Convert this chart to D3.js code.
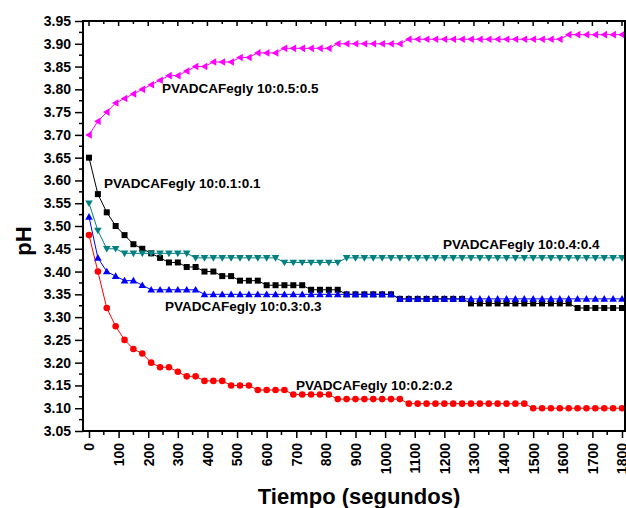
<!DOCTYPE html>
<html>
<head>
<meta charset="utf-8">
<script src="https://cdn.jsdelivr.net/npm/d3@7"></script>
<style>
  body { margin: 0; background: #fff; }
  svg { display: block; font-family: Arial, "Liberation Sans", sans-serif; font-weight: bold; }
</style>
</head>
<body>
<div id="chart"></div>
<script>
// sampling times (s)
const tiempo = [0, 30, 60, 90, 120, 150, 180, 210, 240, 270, 300, 330, 360, 390, 420, 450, 480, 510, 540, 570,
  600, 630, 660, 690, 720, 750, 780, 810, 840, 870, 900, 930, 960, 990, 1020, 1050, 1080, 1110, 1140, 1170,
  1200, 1230, 1260, 1290, 1320, 1350, 1380, 1410, 1440, 1470, 1500, 1530, 1560, 1590, 1620, 1650, 1680, 1710, 1740, 1770, 1800]

const ph01 = [3.65, 3.57, 3.53, 3.50, 3.48, 3.46, 3.45, 3.44, 3.43, 3.42, 3.42, 3.41, 3.41, 3.40, 3.40, 3.39, 3.39, 3.38, 3.38, 3.38,
  3.37, 3.37, 3.37, 3.37, 3.37, 3.36, 3.36, 3.36, 3.36, 3.35, 3.35, 3.35, 3.35, 3.35, 3.35, 3.34, 3.34, 3.34, 3.34, 3.34,
  3.34, 3.34, 3.34, 3.33, 3.33, 3.33, 3.33, 3.33, 3.33, 3.33, 3.33, 3.33, 3.33, 3.33, 3.33, 3.32, 3.32, 3.32, 3.32, 3.32, 3.32]

const ph02 = [3.48, 3.40, 3.32, 3.28, 3.25, 3.23, 3.22, 3.20, 3.19, 3.19, 3.18, 3.17, 3.17, 3.16, 3.16, 3.16, 3.15, 3.15, 3.15, 3.14,
  3.14, 3.14, 3.14, 3.13, 3.13, 3.13, 3.13, 3.13, 3.12, 3.12, 3.12, 3.12, 3.12, 3.12, 3.12, 3.12, 3.11, 3.11, 3.11, 3.11,
  3.11, 3.11, 3.11, 3.11, 3.11, 3.11, 3.11, 3.11, 3.11, 3.11, 3.10, 3.10, 3.10, 3.10, 3.10, 3.10, 3.10, 3.10, 3.10, 3.10, 3.10]

const ph03 = [3.52, 3.43, 3.40, 3.39, 3.38, 3.38, 3.37, 3.36, 3.36, 3.36, 3.36, 3.36, 3.36, 3.35, 3.35, 3.35, 3.35, 3.35, 3.35, 3.35,
  3.35, 3.35, 3.35, 3.35, 3.35, 3.35, 3.35, 3.35, 3.35, 3.35, 3.35, 3.35, 3.35, 3.35, 3.35, 3.34, 3.34, 3.34, 3.34, 3.34,
  3.34, 3.34, 3.34, 3.34, 3.34, 3.34, 3.34, 3.34, 3.34, 3.34, 3.34, 3.34, 3.34, 3.34, 3.34, 3.34, 3.34, 3.34, 3.34, 3.34, 3.34]

const ph04 = [3.55, 3.49, 3.45, 3.45, 3.44, 3.44, 3.44, 3.44, 3.44, 3.44, 3.44, 3.44, 3.43, 3.43, 3.43, 3.43, 3.43, 3.43, 3.43, 3.43,
  3.43, 3.43, 3.42, 3.42, 3.42, 3.42, 3.42, 3.42, 3.42, 3.43, 3.43, 3.43, 3.43, 3.43, 3.43, 3.43, 3.43, 3.43, 3.43, 3.43,
  3.43, 3.43, 3.43, 3.43, 3.43, 3.43, 3.43, 3.43, 3.43, 3.43, 3.43, 3.43, 3.43, 3.43, 3.43, 3.43, 3.43, 3.43, 3.43, 3.43, 3.43]

const ph05 = [3.70, 3.73, 3.75, 3.77, 3.78, 3.79, 3.80, 3.81, 3.82, 3.83, 3.83, 3.84, 3.85, 3.85, 3.86, 3.86, 3.86, 3.87, 3.87, 3.88,
  3.88, 3.88, 3.89, 3.89, 3.89, 3.89, 3.89, 3.89, 3.90, 3.90, 3.90, 3.90, 3.90, 3.90, 3.90, 3.90, 3.91, 3.91, 3.91, 3.91,
  3.91, 3.91, 3.91, 3.91, 3.91, 3.91, 3.91, 3.91, 3.91, 3.91, 3.91, 3.91, 3.91, 3.91, 3.92, 3.92, 3.92, 3.92, 3.92, 3.92, 3.92]

const yTicks = [3.05, 3.10, 3.15, 3.20, 3.25, 3.30, 3.35, 3.40, 3.45, 3.50, 3.55, 3.60, 3.65, 3.70, 3.75, 3.80, 3.85, 3.90, 3.95]
const xTicks = [0, 100, 200, 300, 400, 500, 600, 700, 800, 900, 1000, 1100, 1200, 1300, 1400, 1500, 1600, 1700, 1800]

const seriesNames = ['PVADCAFegly 10:0.1:0.1', 'PVADCAFegly 10:0.2:0.2', 'PVADCAFegly 10:0.3:0.3',
  'PVADCAFegly 10:0.4:0.4', 'PVADCAFegly 10:0.5:0.5']

const W = 626, H = 508
const pLeft = 83, pRight = 625, pTop = 21, pBottom = 431

const x = d3.scaleLinear().domain([0, 1800]).range([89, 622])
const y = d3.scaleLinear().domain([3.05, 3.95]).range([pBottom, pTop])

const svg = d3.select('#chart').append('svg').attr('width', W).attr('height', H)

// series styling: colour, marker, label spot
const series = [
  { vals: ph01, color: '#000000', sym: 'square', lx: 104, ly: 183 },
  { vals: ph02, color: '#ff0000', sym: 'circle', lx: 296, ly: 385 },
  { vals: ph03, color: '#0000ff', sym: 'up', lx: 165, ly: 306 },
  { vals: ph04, color: '#008080', sym: 'down', lx: 443, ly: 244 },
  { vals: ph05, color: '#ff00ff', sym: 'leftTri', lx: 162, ly: 88 }
]

function marker(g, sym, color) {
  if (sym === 'square') {
    g.append('rect').attr('x', -3).attr('y', -3).attr('width', 6).attr('height', 6).attr('fill', color)
  } else if (sym === 'circle') {
    g.append('circle').attr('r', 3.3).attr('fill', color)
  } else if (sym === 'up') {
    g.append('path').attr('d', 'M0,-3.8L3.8,2.8L-3.8,2.8Z').attr('fill', color)
  } else if (sym === 'down') {
    g.append('path').attr('d', 'M0,3.8L3.8,-2.8L-3.8,-2.8Z').attr('fill', color)
  } else {
    g.append('path').attr('d', 'M-3.8,0L2.8,-3.8L2.8,3.8Z').attr('fill', color)
  }
}

const line = d3.line().x((d, i) => x(tiempo[i])).y(d => y(d))

series.forEach((s, k) => {
  svg.append('path').datum(s.vals)
    .attr('d', line).attr('fill', 'none').attr('stroke', s.color).attr('stroke-width', 1)
  svg.append('g').selectAll('g').data(s.vals).join('g')
    .attr('transform', (d, i) => `translate(${x(tiempo[i])},${y(d)})`)
    .each(function () { marker(d3.select(this), s.sym, s.color) })
})

// labels drawn after all series
series.forEach((s, k) => {
  svg.append('text').attr('x', s.lx).attr('y', s.ly).attr('dy', '0.35em')
    .attr('font-size', 13.5).attr('fill', '#000').text(seriesNames[k])
})

// frame
svg.append('rect').attr('x', pLeft).attr('y', pTop).attr('width', pRight - pLeft).attr('height', pBottom - pTop)
  .attr('fill', 'none').attr('stroke', '#000').attr('stroke-width', 2)

// y axis
const yMinor = yTicks.slice(0, -1).map(v => v + 0.025)
const yAx = svg.append('g').attr('transform', `translate(${pLeft},0)`)
  .call(d3.axisLeft(y).tickValues(yTicks).tickFormat(d3.format('.2f')).tickSize(8).tickPadding(4))
yAx.select('.domain').remove()
yAx.selectAll('line').attr('stroke-width', 1.5)
yAx.selectAll('text').attr('font-size', 14).attr('font-family', 'Arial, "Liberation Sans", sans-serif').attr('font-weight', 'bold')
svg.append('g').selectAll('line').data(yMinor).join('line')
  .attr('x1', pLeft - 4).attr('x2', pLeft).attr('y1', d => y(d)).attr('y2', d => y(d))
  .attr('stroke', '#000').attr('stroke-width', 1.5)

// x axis, labels rotated
const xMinor = xTicks.slice(0, -1).map(v => v + 50)
const xAx = svg.append('g').attr('transform', `translate(0,${pBottom})`)
  .call(d3.axisBottom(x).tickValues(xTicks).tickSize(7).tickFormat(d3.format('d')))
xAx.select('.domain').remove()
xAx.selectAll('line').attr('stroke-width', 1.5)
xAx.selectAll('text')
  .attr('font-size', 14).attr('font-family', 'Arial, "Liberation Sans", sans-serif').attr('font-weight', 'bold')
  .attr('transform', 'rotate(-90)').attr('text-anchor', 'end').attr('x', -12).attr('y', 0).attr('dy', '0.35em')
svg.append('g').selectAll('line').data(xMinor).join('line')
  .attr('x1', d => x(d)).attr('x2', d => x(d)).attr('y1', pBottom).attr('y2', pBottom + 4)
  .attr('stroke', '#000').attr('stroke-width', 1.5)

// inward ticks on the top edge
svg.append('g').selectAll('line').data(xTicks.concat(xMinor)).join('line')
  .attr('x1', d => x(d)).attr('x2', d => x(d)).attr('y1', pTop)
  .attr('y2', d => pTop + (d % 100 === 0 ? 5 : 3))
  .attr('stroke', '#000').attr('stroke-width', 1.5)

// axis titles
svg.append('text').attr('transform', 'translate(23,241) rotate(-90)').attr('text-anchor', 'middle')
  .attr('dy', '0.35em').attr('font-size', 22).text('pH')
svg.append('text').attr('x', 359).attr('y', 496).attr('text-anchor', 'middle')
  .attr('dy', '0.35em').attr('font-size', 22).text('Tiempo (segundos)')
</script>
</body>
</html>
